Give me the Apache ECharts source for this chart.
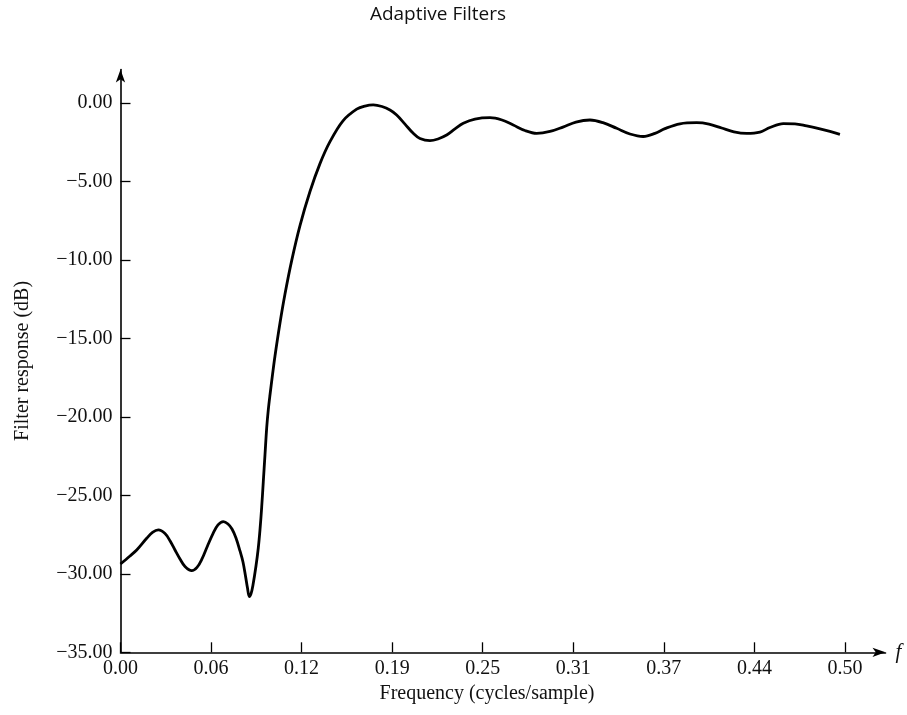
<!DOCTYPE html>
<html>
<head>
<meta charset="utf-8">
<script src="https://cdn.jsdelivr.net/npm/echarts@6/dist/echarts.min.js"></script>
<style>
  html, body { margin: 0; padding: 0; background: #fff; }
  #chart { width: 907px; height: 715px; }
</style>
</head>
<body>
<div id="chart"></div>
<script>
// Frequency (cycles/sample)
const freq = [
  0.00000, 0.00656, 0.01118, 0.01808, 0.02208, 0.02609, 0.03071, 0.03416, 0.03761, 0.04106,
  0.04451, 0.04914, 0.05280, 0.05625, 0.06004, 0.06384, 0.06729, 0.07095, 0.07419, 0.07695,
  0.07971, 0.08247, 0.08454, 0.08627, 0.08765, 0.08889, 0.09006, 0.09144, 0.09351, 0.09510,
  0.09627, 0.09745, 0.09855, 0.09972, 0.10090, 0.10200, 0.10317, 0.10490, 0.10663, 0.11008,
  0.11353, 0.11815, 0.12388, 0.13078, 0.13768, 0.14458, 0.15356, 0.16301, 0.16874, 0.17447,
  0.18047, 0.18599, 0.19061, 0.19634, 0.20207, 0.20669, 0.21360, 0.21912, 0.22512, 0.23085,
  0.23658, 0.24465, 0.25500, 0.26329, 0.27108, 0.27916, 0.28723, 0.29641, 0.30538, 0.31435,
  0.32401, 0.33299, 0.34244, 0.35162, 0.36080, 0.36888, 0.37578, 0.38613, 0.39766, 0.40615,
  0.41491, 0.42340, 0.43216, 0.44134, 0.44824, 0.45742, 0.46549, 0.47357, 0.48275, 0.48965,
  0.49655
];
// Filter response (dB)
const response = [
  -29.37, -28.86, -28.48, -27.73, -27.36, -27.20, -27.43, -27.89, -28.48, -29.05,
  -29.53, -29.80, -29.59, -29.05, -28.22, -27.43, -26.88, -26.67, -26.82, -27.14,
  -27.71, -28.54, -29.24, -30.13, -30.90, -31.45, -31.28, -30.71, -29.50, -28.35,
  -27.20, -25.74, -24.14, -22.42, -20.70, -19.55, -18.60, -17.32, -16.11, -14.01,
  -12.16, -10.03, -7.80, -5.63, -3.85, -2.45, -1.12, -0.38, -0.18, -0.11,
  -0.21, -0.43, -0.75, -1.33, -1.92, -2.25, -2.39, -2.28, -2.03, -1.64,
  -1.28, -1.01, -0.92, -1.07, -1.39, -1.74, -1.92, -1.80, -1.52, -1.20,
  -1.07, -1.24, -1.60, -1.96, -2.12, -1.92, -1.62, -1.31, -1.24, -1.33,
  -1.58, -1.82, -1.92, -1.84, -1.55, -1.30, -1.31, -1.45, -1.64, -1.80,
  -1.98
];
const xTickValues = [0, 0.0625, 0.125, 0.1875, 0.25, 0.3125, 0.375, 0.4375, 0.5];
const xTickLabels = ['0.00', '0.06', '0.12', '0.19', '0.25', '0.31', '0.37', '0.44', '0.50'];
const yTickValues = [-35, -30, -25, -20, -15, -10, -5, 0];
const yTickLabels = ['\u221235.00', '\u221230.00', '\u221225.00', '\u221220.00', '\u221215.00', '\u221210.00', '\u22125.00', '0.00'];

const serif = '"Liberation Serif", "DejaVu Serif", serif';
const chart = echarts.init(document.getElementById('chart'), null, { renderer: 'canvas' });

function labelFor(values, labels, v) {
  for (let i = 0; i < values.length; i++) {
    if (Math.abs(values[i] - v) < 1e-6) return labels[i];
  }
  return '';
}

chart.setOption({
  animation: false,
  backgroundColor: '#ffffff',
  title: [
    {
      text: 'Adaptive Filters',
      left: 433, top: 0, textAlign: 'center',
      textStyle: { fontFamily: '"Open Sans", "Noto Sans", sans-serif', fontSize: 19, fontWeight: 'normal', color: '#111' }
    },
    {
      text: 'Frequency (cycles/sample)',
      left: 482, top: 679, textAlign: 'center',
      textStyle: { fontFamily: serif, fontSize: 20, fontWeight: 'normal', color: '#111' }
    }
  ],
  grid: { left: 120.5, right: 21.5, top: 69.5, bottom: 62.7, containLabel: false },
  xAxis: {
    type: 'value',
    min: 0, max: 0.528,
    name: 'f',
    nameLocation: 'end',
    nameGap: 10,
    nameTextStyle: { fontFamily: serif, fontSize: 21, fontStyle: 'italic', color: '#111', verticalAlign: 'middle', padding: [6, 0, 0, 0] },
    axisLine: { show: true, onZero: false, symbol: ['none', 'arrow'], symbolSize: [7, 13], lineStyle: { color: '#000', width: 1.6 } },
    axisTick: { show: true, inside: true, length: 10, customValues: xTickValues, lineStyle: { color: '#000', width: 1.3 } },
    axisLabel: {
      show: true, customValues: xTickValues, margin: 6,
      fontFamily: serif, fontSize: 20, color: '#111',
      formatter: v => labelFor(xTickValues, xTickLabels, v)
    },
    splitLine: { show: false }
  },
  yAxis: {
    type: 'value',
    min: -35, max: 2.15,
    name: 'Filter response (dB)',
    nameLocation: 'middle',
    nameGap: 88,
    nameTextStyle: { fontFamily: serif, fontSize: 20, color: '#111' },
    axisLine: { show: true, onZero: false, symbol: ['none', 'arrow'], symbolSize: [7, 13], lineStyle: { color: '#000', width: 1.6 } },
    axisTick: { show: true, inside: true, length: 10, customValues: yTickValues, lineStyle: { color: '#000', width: 1.3 } },
    axisLabel: {
      show: true, customValues: yTickValues, margin: 8,
      fontFamily: serif, fontSize: 20, color: '#111',
      formatter: v => labelFor(yTickValues, yTickLabels, v)
    },
    splitLine: { show: false }
  },
  series: [{
    type: 'line',
    data: freq.map((f, i) => [f, response[i]]),
    smooth: 0.35,
    showSymbol: false,
    clip: false,
    lineStyle: { color: '#000', width: 2.8 },
    itemStyle: { color: '#000' }
  }]
});
</script>
</body>
</html>
